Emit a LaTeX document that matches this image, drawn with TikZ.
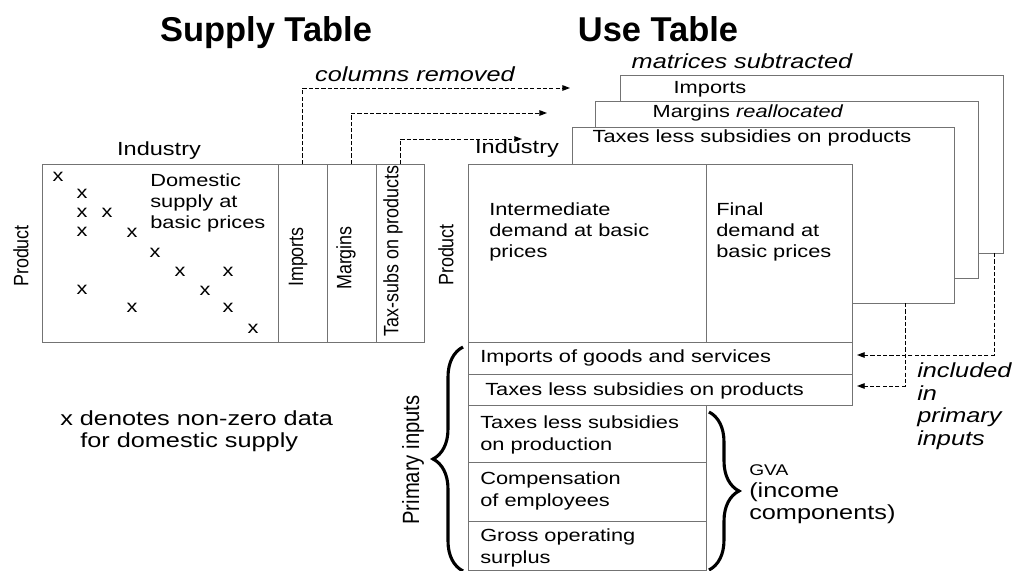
\documentclass[tikz,border=0pt]{standalone}
\usepackage{fontspec}
\setmainfont{Liberation Sans}[FakeStretch=1.24]
\newfontfamily\narrowfont{Liberation Sans}
\newfontfamily\sidefont{Liberation Sans}[FakeStretch=0.86]
\usetikzlibrary{arrows.meta,decorations.pathreplacing}
\definecolor{boxgray}{gray}{0.45}
\def\pxu{0.025cm}
\tikzset{
    cell/.style={draw=boxgray, line width=0.6pt, fill=white, inner sep=0pt, outer sep=0pt, anchor=north west},
    body/.style={font=\fontsize{12.5}{15.2}\selectfont, inner sep=0pt, align=left},
    head/.style={font=\fontsize{13.5}{15}\selectfont, inner sep=0pt},
    big/.style={font=\fontsize{14.5}{15.6}\selectfont, inner sep=0pt, align=left},
    note/.style={font=\fontsize{14.5}{16}\selectfont\itshape, inner sep=0pt, align=left},
    side/.style={font=\sidefont\fontsize{14.8}{16}\selectfont, rotate=90, inner sep=0pt},
    ttl/.style={font=\narrowfont\bfseries\fontsize{24.5}{28}\selectfont, anchor=base, inner sep=0pt},
    moved/.style={line width=0.7pt, dash pattern=on 3pt off 1.5pt, -{Triangle[length=5.5pt,width=4pt]}},
    bracket/.style={decorate, decoration={brace, amplitude=0.75cm}, line width=2.2pt},
}
\begin{document}
\begin{tikzpicture}[x=0.025cm, y=-0.025cm]
    \useasboundingbox (0,0) rectangle (1014,571);

    % supply table
    \node[ttl] (supplyttl) at (266,41.5) {Supply Table};
    \node[cell, minimum width=236*\pxu, minimum height=178*\pxu] (dom) at (42,164) {};
    \node[cell, minimum width=49*\pxu, minimum height=178*\pxu] (imp) at (dom.north east) {};
    \node[cell, minimum width=49*\pxu, minimum height=178*\pxu] (mar) at (imp.north east) {};
    \node[cell, minimum width=48*\pxu, minimum height=178*\pxu] (tsp) at (mar.north east) {};
    \node[head] (supind) at (159,151) {Industry};
    \node[side] (supprod) at (21,256) {Product};
    \node[body, anchor=west] (domtxt) at (150,203) {Domestic\\supply at\\basic prices};
    \node[side] (implbl) at (298,257) {Imports};
    \node[side] (marlbl) at (346,258) {Margins};
    \node[side] (tsplbl) at (393,251) {Tax-subs on products};
    \foreach \mx/\my [count=\i] in {58/177, 82/194, 82/213, 107/213, 82/232, 132/233, 155/253,
            180/272, 228/272, 82/290, 205/291, 132/308, 228/308, 253/329} {
        \node[body] (mark\i) at (\mx,\my) {x};
    }
    \node[big, anchor=west] (xnote) at (60,431) {x denotes non-zero data\\\hspace*{0.5cm}for domestic supply};

    % use table, stacked matrices first
    \node[ttl] (usettl) at (658,41.5) {Use Table};
    \node[note] (matsub) at (742,61) {matrices subtracted};
    \node[cell, minimum width=383*\pxu, minimum height=178*\pxu] (bimp) at (620,75) {};
    \node[cell, minimum width=383*\pxu, minimum height=177*\pxu] (bmar) at (595,101) {};
    \node[cell, minimum width=382*\pxu, minimum height=176*\pxu] (btax) at (572,127) {};
    \node[body] (bimplbl) at (710,89) {Imports};
    \node[body] (bmarlbl) at (748,113) {Margins \textit{reallocated}};
    \node[body] (btaxlbl) at (752,138) {Taxes less subsidies on products};

    \node[cell, minimum width=238*\pxu, minimum height=178*\pxu] (inter) at (468,164) {};
    \node[cell, minimum width=146*\pxu, minimum height=178*\pxu] (fin) at (inter.north east) {};
    \node[cell, minimum width=384*\pxu, minimum height=32*\pxu] (rimp) at (inter.south west) {};
    \node[cell, minimum width=384*\pxu, minimum height=31*\pxu] (rtax) at (rimp.south west) {};
    \node[cell, minimum width=238*\pxu, minimum height=57*\pxu] (rprod) at (rtax.south west) {};
    \node[cell, minimum width=238*\pxu, minimum height=59*\pxu] (rcomp) at (rprod.south west) {};
    \node[cell, minimum width=238*\pxu, minimum height=49*\pxu] (rgos) at (rcomp.south west) {};

    \node[head] (useind) at (517,148.5) {Industry};
    \node[side] (useprod) at (446,255) {Product};
    \node[body, anchor=west] (intertxt) at (489,232) {Intermediate\\demand at basic\\prices};
    \node[body, anchor=west] (fintxt) at (716,232) {Final\\demand at\\basic prices};
    \node[body, anchor=west] (rimptxt) at (480,358) {Imports of goods and services};
    \node[body, anchor=west] (rtaxtxt) at (485,391) {Taxes less subsidies on products};
    \node[body, anchor=west] (rprodtxt) at (480,435) {Taxes less subsidies\\on production};
    \node[body, anchor=west] (rcomptxt) at (480,491) {Compensation\\of employees};
    \node[body, anchor=west] (rgostxt) at (480,548) {Gross operating\\surplus};

    % braces
    \draw[bracket] (463,571) -- (463,347);
    \node[side, font=\sidefont\fontsize{16.7}{18}\selectfont] (prim) at (413,460) {Primary inputs};
    \draw[bracket] (709,412) -- (709,570);
    \node[big, anchor=west] (gva) at (749,494) {{\fontsize{11}{15.6}\selectfont GVA}\\(income\\components)};

    % columns moved across
    \node[note] (colrem) at (415,74) {columns removed};
    \coordinate (impend) at (570,88);
    \coordinate (marend) at (547,113);
    \coordinate (tspend) at (522,139);
    \draw[moved] (imp.north) |- (impend);
    \draw[moved] (mar.north) |- (marend);
    \draw[moved] (tsp.north) |- (tspend);

    % matrices put back as primary inputs
    \coordinate (inimp) at (857,355);
    \coordinate (intax) at (857,386);
    \draw[moved] (bimp.south east) ++(-9,0) |- (inimp);
    \draw[moved] (btax.south east) ++(-49,0) |- (intax);
    \node[note, anchor=west] (incl) at (917,406) {included\\in\\primary\\inputs};
\end{tikzpicture}
\end{document}
